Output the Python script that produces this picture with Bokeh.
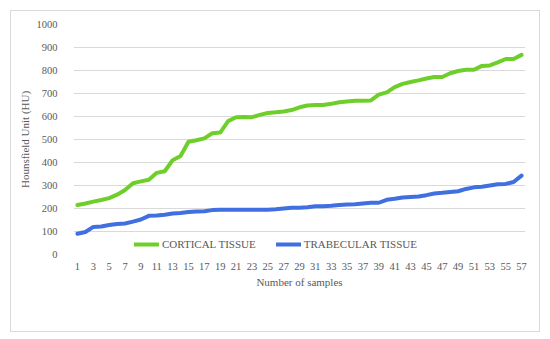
from bokeh.plotting import figure
from bokeh.models import Range1d, FixedTicker, Legend, LegendItem, ColumnDataSource
from bokeh.embed import file_html
from bokeh.resources import INLINE

samples = list(range(1, 58))
cortical = [215, 222, 230, 237, 245, 260, 280, 310, 318, 325,
            355, 362, 410, 428, 490, 497, 505, 527, 530, 580,
            597, 598, 597, 607, 615, 618, 622, 628, 640, 648,
            650, 650, 655, 662, 665, 668, 668, 670, 695, 705,
            728, 742, 750, 757, 765, 772, 772, 788, 798, 803,
            803, 820, 822, 835, 850, 850, 868]
trabecular = [90, 98, 120, 122, 128, 133, 135, 143, 152, 168,
              170, 173, 178, 180, 185, 187, 188, 193, 195, 195,
              195, 195, 195, 195, 195, 197, 200, 203, 203, 205,
              210, 210, 212, 215, 217, 218, 222, 225, 225, 238,
              242, 248, 250, 252, 258, 265, 268, 272, 275, 285,
              292, 295, 300, 305, 307, 315, 343]
x_ticks = list(range(1, 58, 2))
y_ticks = list(range(0, 1001, 100))
series_names = ["CORTICAL TISSUE", "TRABECULAR TISSUE"]

src = ColumnDataSource(dict(x=samples, c=cortical, t=trabecular))

FONT = "Liberation Serif"
TXT = "#595959"

p = figure(width=528, height=320, output_backend="svg", toolbar_location=None,
           x_range=Range1d(0.5, 57.5), y_range=Range1d(0, 1000),
           frame_width=452, frame_height=230,
           min_border_left=62, min_border_right=14, min_border_top=13, min_border_bottom=77)
p.styles = {"border": "1px solid #d9d9d9", "margin-left": "10px", "margin-top": "10px"}
p.outline_line_color = None
p.background_fill_color = "white"

p.xaxis.ticker = FixedTicker(ticks=x_ticks)
p.yaxis.ticker = FixedTicker(ticks=y_ticks)
for ax in (p.xaxis[0], p.yaxis[0]):
    ax.axis_line_color = None
    ax.major_tick_line_color = None
    ax.minor_tick_line_color = None
    ax.major_label_text_font = FONT
    ax.major_label_text_font_size = "10.5px"
    ax.major_label_text_color = TXT
    ax.axis_label_text_font = FONT
    ax.axis_label_text_font_size = "11px"
    ax.axis_label_text_color = TXT
    ax.axis_label_text_font_style = "normal"
p.xaxis.axis_label = "Number of samples"
p.yaxis.axis_label = "Hounsfield Unit (HU)"
p.xaxis.major_label_standoff = 2
p.xaxis.axis_label_standoff = 3
p.yaxis.major_label_standoff = 10
p.yaxis.axis_label_standoff = 3

p.xgrid.grid_line_color = None
p.ygrid.grid_line_color = "#d9d9d9"
p.ygrid.grid_line_width = 1

r1 = p.line("x", "c", source=src, line_color="#6fcf2a", line_width=4, line_join="round", line_cap="round")
r2 = p.line("x", "t", source=src, line_color="#3f6fe0", line_width=4, line_join="round", line_cap="round")

legend = Legend(items=[LegendItem(label=series_names[0], renderers=[r1]),
                       LegendItem(label=series_names[1], renderers=[r2])],
                orientation="horizontal", location=(61, 4),
                label_text_font=FONT, label_text_font_size="11px", label_text_color=TXT,
                glyph_width=25, glyph_height=10, label_height=12, label_standoff=3, spacing=20,
                border_line_color=None, background_fill_color="white", background_fill_alpha=1,
                padding=2, margin=0)
p.add_layout(legend, "center")

open("out.html", "w").write(file_html(p, INLINE))
